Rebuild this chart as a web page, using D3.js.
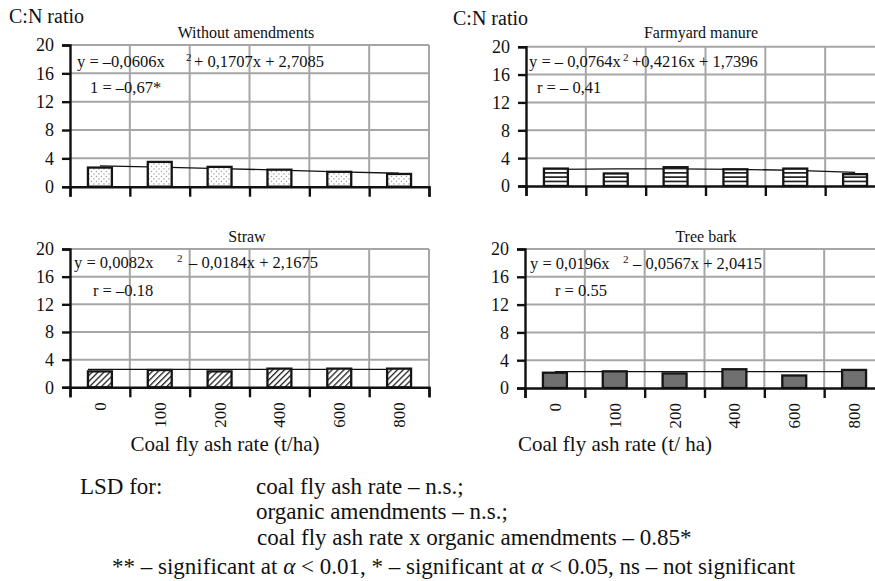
<!DOCTYPE html>
<html>
<head>
<meta charset="utf-8">
<script src="https://cdn.jsdelivr.net/npm/d3@7"></script>
<style>
  html, body { margin: 0; padding: 0; background: #fff; }
  svg { display: block; }
  svg text { font-family: "Liberation Serif", "Times New Roman", Times, serif; fill: #111; }
</style>
</head>
<body>
<svg id="chart" width="875" height="581"></svg>
<script>
// Coal fly ash rates (t/ha) on the x axis
const categories = ["0", "100", "200", "400", "600", "800"];
const yTicks = [0, 4, 8, 12, 16, 20];

// C:N ratio by amendment
const withoutAmendments = [2.7, 3.5, 2.8, 2.4, 2.1, 1.8];
const farmyardManure    = [2.5, 1.8, 2.7, 2.4, 2.5, 1.7];
const straw             = [2.3, 2.5, 2.3, 2.7, 2.7, 2.7];
const treeBark          = [2.2, 2.4, 2.1, 2.7, 1.8, 2.6];

// fitted trend lines
const trendWithout  = [2.95, 2.75, 2.55, 2.35, 2.1, 1.9];
const trendManure   = [2.4, 2.45, 2.45, 2.4, 2.25, 1.95];
const trendStraw    = [2.6, 2.6, 2.6, 2.6, 2.6, 2.6];
const trendBark     = [2.35, 2.35, 2.35, 2.35, 2.35, 2.35];

const titles = ["Without amendments", "Farmyard manure", "Straw", "Tree bark"];
const equations = [
  ["y = \u20130,0606x", "2", "+ 0,1707x + 2,7085", "1 = \u20130,67*"],
  ["y = \u2013 0,0764x", "2", "+0,4216x + 1,7396", "r = \u2013 0,41"],
  ["y = 0,0082x", "2", "\u2013 0,0184x + 2,1675", "r = \u20130.18"],
  ["y = 0,0196x", "2", "\u2013 0,0567x + 2,0415", "r = 0.55"]
];

const FONT = "Liberation Serif, Times New Roman, Times, serif";

const svg = d3.select("#chart").attr("font-family", FONT);
const defs = svg.append("defs");

// bar fills
const pDots = defs.append("pattern").attr("id", "dots")
  .attr("patternUnits", "userSpaceOnUse").attr("width", 5).attr("height", 5);
pDots.append("rect").attr("width", 5).attr("height", 5).attr("fill", "#fff");
pDots.append("rect").attr("x", 0.8).attr("y", 0.8).attr("width", 1.3).attr("height", 1.3).attr("fill", "#a0a0a0");
pDots.append("rect").attr("x", 3.3).attr("y", 3.3).attr("width", 1.3).attr("height", 1.3).attr("fill", "#a0a0a0");

const pHoriz = defs.append("pattern").attr("id", "horiz")
  .attr("patternUnits", "userSpaceOnUse").attr("width", 6).attr("height", 4.3);
pHoriz.append("rect").attr("width", 6).attr("height", 4.3).attr("fill", "#fff");
pHoriz.append("rect").attr("y", 0).attr("width", 6).attr("height", 1.7).attr("fill", "#222");

const pDiag = defs.append("pattern").attr("id", "diag")
  .attr("patternUnits", "userSpaceOnUse").attr("width", 4.2).attr("height", 4.2)
  .attr("patternTransform", "rotate(45)");
pDiag.append("rect").attr("width", 4.2).attr("height", 4.2).attr("fill", "#fff");
pDiag.append("rect").attr("x", 0).attr("width", 1.3).attr("height", 4.2).attr("fill", "#222");

const panels = [
  { values: withoutAmendments, trend: trendWithout, fill: "url(#dots)",
    left: 70, top: 45, bottom: 186.7, rotLabels: false, trendToEdges: false,
    titleX: 246, titleY: 38,
    eq: { x1: 7, x2: 116, x3: 124, xr: 20, y: 22, yr: 48 } },
  { values: farmyardManure, trend: trendManure, fill: "url(#horiz)",
    left: 526, top: 46.7, bottom: 186, rotLabels: false, trendToEdges: false,
    titleX: 701, titleY: 38,
    eq: { x1: 3, x2: 97, x3: 106, xr: 11, y: 20, yr: 46.3 } },
  { values: straw, trend: trendStraw, fill: "url(#diag)",
    left: 70, top: 249, bottom: 387.3, rotLabels: true, trendToEdges: true,
    titleX: 247, titleY: 242,
    eq: { x1: 4, x2: 107, x3: 119, xr: 23, y: 19, yr: 47 } },
  { values: treeBark, trend: trendBark, fill: "#707070",
    left: 525, top: 249, bottom: 388, rotLabels: true, trendToEdges: false,
    titleX: 706, titleY: 242,
    eq: { x1: 5, x2: 98, x3: 108, xr: 30, y: 20, yr: 47 } }
];

const plotWidth = 359;

panels.forEach((p, i) => {
  const g = svg.append("g");
  const right = p.left + plotWidth;

  const x = d3.scaleBand().domain(categories).range([p.left, right])
    .paddingInner(0.6).paddingOuter(0.3);
  const edges = d3.scaleLinear().domain([0, categories.length]).range([p.left, right]);
  const y = d3.scaleLinear().domain([0, 20]).range([p.bottom, p.top]);

  // grid
  g.append("g").selectAll("line").data(yTicks.filter(t => t > 0)).join("line")
    .attr("x1", p.left).attr("x2", right)
    .attr("y1", d => y(d)).attr("y2", d => y(d))
    .attr("stroke", "#a6a6a6").attr("stroke-width", 2);
  g.append("g").selectAll("line").data(d3.range(1, categories.length + 1)).join("line")
    .attr("x1", d => edges(d)).attr("x2", d => edges(d))
    .attr("y1", p.top).attr("y2", p.bottom)
    .attr("stroke", "#a6a6a6").attr("stroke-width", 2);

  // trend line (centre to centre, or across the outer bar edges)
  const last = categories.length - 1;
  const trendX = (k) => p.trendToEdges
    ? x(categories[k]) + x.bandwidth() * k / last
    : x(categories[k]) + x.bandwidth() / 2;
  g.append("path")
    .datum(p.trend)
    .attr("d", d3.line().x((d, k) => trendX(k)).y(d => y(d)))
    .attr("fill", "none").attr("stroke", "#111").attr("stroke-width", 1.3);

  // bars
  g.append("g").selectAll("rect").data(p.values).join("rect")
    .attr("x", (d, k) => x(categories[k]))
    .attr("y", d => y(d))
    .attr("width", x.bandwidth())
    .attr("height", d => y(0) - y(d))
    .attr("fill", p.fill)
    .attr("stroke", "#151515").attr("stroke-width", 2.3);

  // x axis: ticks at category boundaries
  const xAxis = g.append("g").attr("transform", `translate(0,${p.bottom})`)
    .call(d3.axisBottom(edges).tickValues(d3.range(0, categories.length + 1))
      .tickSize(10).tickFormat(""));
  xAxis.selectAll("path, line").attr("stroke", "#111").attr("stroke-width", 2.4);

  // y axis
  const yAxis = g.append("g").attr("transform", `translate(${p.left},0)`)
    .call(d3.axisLeft(y).tickValues(yTicks).tickSize(8).tickPadding(8));
  yAxis.attr("font-family", FONT).attr("font-size", 18);
  yAxis.selectAll("path, line").attr("stroke", "#111").attr("stroke-width", 2.4);
  yAxis.selectAll("text").attr("fill", "#111").attr("dy", "0.33em");

  if (p.rotLabels) {
    g.append("g").selectAll("text").data(categories).join("text")
      .attr("transform", d => `translate(${x(d) + x.bandwidth() / 2},${p.bottom + 15}) rotate(-90)`)
      .attr("text-anchor", "end").attr("dy", "0.35em")
      .attr("font-size", 17).text(d => d);
  }

  // panel title
  g.append("text").attr("x", p.titleX).attr("y", p.titleY)
    .attr("text-anchor", "middle").attr("font-size", 16).text(titles[i]);

  // regression equation and correlation
  const e = equations[i];
  g.append("text").attr("x", p.left + p.eq.x1).attr("y", p.top + p.eq.y)
    .attr("font-size", 16.5).text(e[0]);
  g.append("text").attr("x", p.left + p.eq.x2).attr("y", p.top + p.eq.y - 6)
    .attr("font-size", 11).text(e[1]);
  g.append("text").attr("x", p.left + p.eq.x3).attr("y", p.top + p.eq.y)
    .attr("font-size", 16.5).text(e[2]);
  g.append("text").attr("x", p.left + p.eq.xr).attr("y", p.top + p.eq.yr)
    .attr("font-size", 16.5).text(e[3]);
});

// axis captions
svg.append("text").attr("x", 9).attr("y", 23).attr("font-size", 20).text("C:N ratio");
svg.append("text").attr("x", 453).attr("y", 25).attr("font-size", 20).text("C:N ratio");
svg.append("text").attr("x", 225).attr("y", 451).attr("text-anchor", "middle")
  .attr("font-size", 21).text("Coal fly ash rate (t/ha)");
svg.append("text").attr("x", 615).attr("y", 451).attr("text-anchor", "middle")
  .attr("font-size", 21).text("Coal fly ash rate (t/ ha)");

// statistics note
const note = svg.append("g").attr("font-size", 23);
note.append("text").attr("x", 80).attr("y", 494).text("LSD for:");
note.append("text").attr("x", 256).attr("y", 494).text("coal fly ash rate \u2013 n.s.;");
note.append("text").attr("x", 256).attr("y", 519).text("organic amendments \u2013 n.s.;");
note.append("text").attr("x", 257).attr("y", 545).text("coal fly ash rate x organic amendments \u2013 0.85*");

const foot = note.append("text").attr("x", 112).attr("y", 574);
const footParts = [
  ["** \u2013 significant at ", false], ["\u03b1", true], [" < 0.01, * \u2013 significant at ", false],
  ["\u03b1", true], [" < 0.05, ns \u2013 not significant", false]
];
footParts.forEach(([t, it]) => {
  foot.append("tspan").attr("font-style", it ? "italic" : "normal").text(t);
});
</script>
</body>
</html>
